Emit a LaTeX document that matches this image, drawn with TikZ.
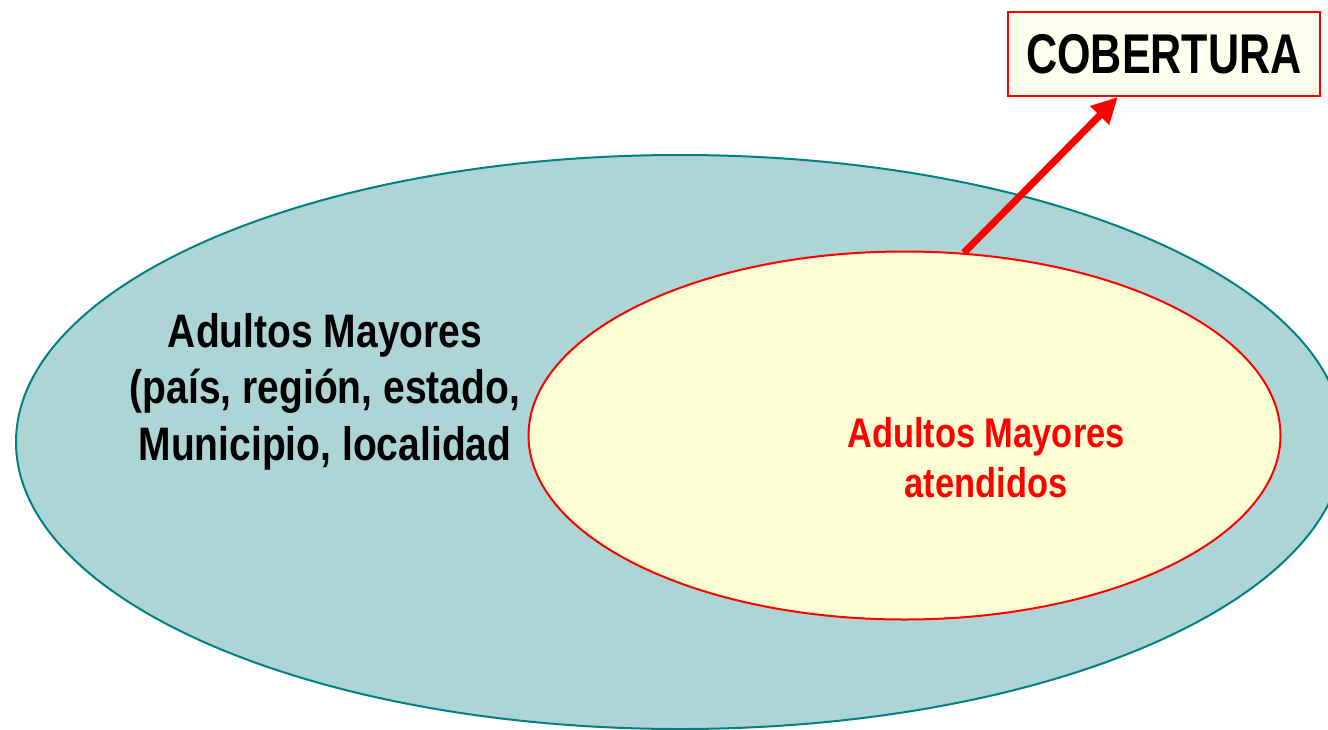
\documentclass[tikz,border=0pt]{standalone}
\usepackage{fontspec}
\newfontfamily\narrowfont{Liberation Sans}[FakeStretch=0.83]
\newfontfamily\titlefont{Liberation Sans}[FakeStretch=0.77]
\usetikzlibrary{shapes.geometric,arrows.meta,calc}
\definecolor{outerfill}{HTML}{ADD5D5}
\definecolor{outerline}{HTML}{008080}
\definecolor{innerfill}{HTML}{FFFFD5}
\definecolor{boxfill}{HTML}{FFFFEE}
\definecolor{redline}{HTML}{FF0000}
\tikzset{
  region/.style={ellipse, inner sep=0pt, line width=2pt},
  label text/.style={inner sep=0pt, align=center, font=\narrowfont\bfseries},
  titlebox/.style={draw=redline, fill=boxfill, line width=2pt, inner sep=0pt,
    minimum width=312pt, minimum height=84pt, font=\titlefont\bfseries\fontsize{56}{62}\selectfont},
  pointer/.style={draw=redline, line width=7pt, -{Triangle[length=26pt,width=25pt]}}
}
\begin{document}
\begin{tikzpicture}[x=1pt,y=-1pt]
\useasboundingbox (0,0) rectangle (1328,729);
\node[region, draw=outerline, fill=outerfill, minimum width=1328pt, minimum height=574pt] (outer) at (680,442) {};
\node[region, draw=redline, fill=innerfill, minimum width=752pt, minimum height=368pt] (inner) at (904.5,435.5) {};
\node[label text, font=\narrowfont\bfseries\fontsize{47}{56.5}\selectfont] (outertext) at (325,391.5)
  {Adultos Mayores\\(país, región, estado,\\Municipio, localidad};
\node[label text, text=redline, font=\narrowfont\bfseries\fontsize{41.5}{50}\selectfont] (innertext) at (986,458)
  {Adultos Mayores\\atendidos};
\node[titlebox] (box) at (1164,54) {COBERTURA};
\coordinate (tip) at ($(box.south west)!0.353!(box.south east)$);
\draw[pointer] (inner.72) -- (tip);
\end{tikzpicture}
\end{document}
